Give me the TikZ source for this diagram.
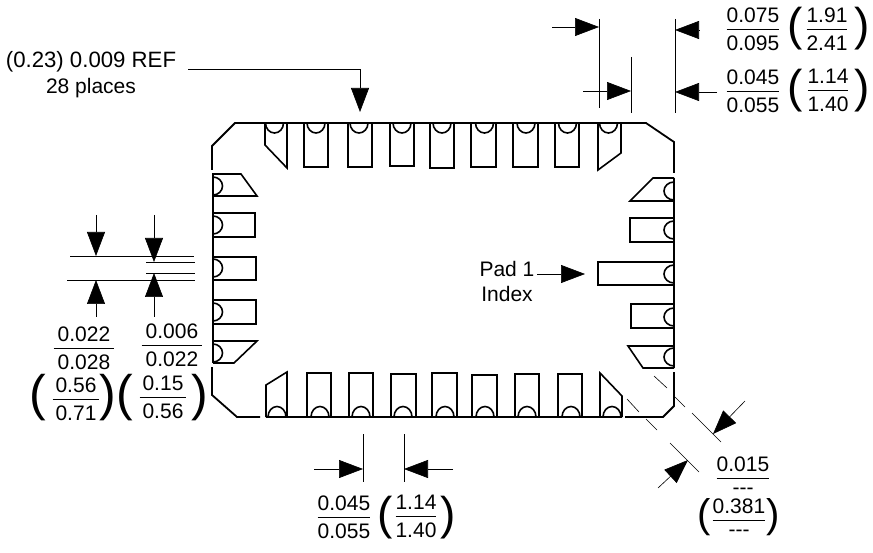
\documentclass[tikz,border=0pt]{standalone}
\usepackage{fontspec}
\setmainfont{Liberation Sans}
\usetikzlibrary{arrows.meta}
\setlength{\arrayrulewidth}{0.8pt}
\newcommand{\dimfrac}[3][0pt]{{\renewcommand{\arraystretch}{0}\begin{tabular}{@{\hspace{#1}}c@{\hspace{#1}}}\rule[-6pt]{0pt}{23pt}#2\\\hline\rule[-2pt]{0pt}{23pt}#3\end{tabular}}}
\begin{document}
\begin{tikzpicture}[x=1pt, y=-1pt, >={Triangle[length=24pt, width=18pt]}, font=\fontsize{21}{24}\selectfont]
    \tikzstyle{outline}=[draw=black, line width=1.8pt, line join=miter]
    \tikzstyle{pad}=[draw=black, line width=1.6pt]
    \tikzstyle{dimline}=[draw=black, line width=0.6pt]
    \tikzstyle{dimarrow}=[dimline, ->]
    \tikzstyle{label}=[inner sep=0pt]
    \tikzstyle{paren}=[inner sep=0pt, font=\fontsize{46}{46}\selectfont]

    \useasboundingbox (0,0) rectangle (873,553);

    % package outline
    \draw[outline] (212,170) -- (212,146) -- (235,123) -- (646,123) -- (674,142) -- (674,173);
    \draw[outline] (674,178) -- (674,368);
    \draw[outline] (674,372) -- (674,406) -- (663,417) -- (625,417);
    \draw[outline] (622,417) -- (266,417);
    \draw[outline] (260,417) -- (237,417) -- (212,395) -- (212,367);
    \draw[outline] (213,363) -- (213,173);

    %%%% top pads
    \draw[pad] (265,123) -- (265,145) -- (287,168) -- (287,123) (265.5,123) arc[start angle=180, end angle=360, x radius=9pt, y radius=10pt];
    \draw[pad] (304,123) -- (304,167) -- (328,167) -- (328,123) (307,123) arc[start angle=180, end angle=360, x radius=9pt, y radius=10pt];
    \draw[pad] (348,123) -- (348,167) -- (372,167) -- (372,123) (350,123) arc[start angle=180, end angle=360, x radius=9pt, y radius=10pt];
    \draw[pad] (390,123) -- (390,166) -- (414,166) -- (414,123) (393,123) arc[start angle=180, end angle=360, x radius=9pt, y radius=10pt];
    \draw[pad] (430,123) -- (430,168) -- (454,168) -- (454,123) (433,123) arc[start angle=180, end angle=360, x radius=9pt, y radius=10pt];
    \draw[pad] (471,123) -- (471,167) -- (496,167) -- (496,123) (475.5,123) arc[start angle=180, end angle=360, x radius=9pt, y radius=10pt];
    \draw[pad] (513,123) -- (513,167) -- (538,167) -- (538,123) (517,123) arc[start angle=180, end angle=360, x radius=9pt, y radius=10pt];
    \draw[pad] (555,123) -- (555,167) -- (579,167) -- (579,123) (558.5,123) arc[start angle=180, end angle=360, x radius=9pt, y radius=10pt];
    \draw[pad] (598,123) -- (598,170) -- (621,153) -- (621,123) (599.5,123) arc[start angle=180, end angle=360, x radius=9pt, y radius=10pt];

    %%%% bottom pads
    \draw[pad] (266,417) -- (266,385) -- (287,372) -- (287,417) (268,417) arc[start angle=180, end angle=0, x radius=9pt, y radius=10.5pt];
    \draw[pad] (307,417) -- (307,373) -- (331,373) -- (331,417) (311,417) arc[start angle=180, end angle=0, x radius=9pt, y radius=10.5pt];
    \draw[pad] (349,417) -- (349,373) -- (373,373) -- (373,417) (352,417) arc[start angle=180, end angle=0, x radius=9pt, y radius=10.5pt];
    \draw[pad] (391,417) -- (391,374) -- (416,374) -- (416,417) (394,417) arc[start angle=180, end angle=0, x radius=9pt, y radius=10.5pt];
    \draw[pad] (432,417) -- (432,373) -- (457,373) -- (457,417) (436,417) arc[start angle=180, end angle=0, x radius=9pt, y radius=10.5pt];
    \draw[pad] (472,417) -- (472,375) -- (497,375) -- (497,417) (476,417) arc[start angle=180, end angle=0, x radius=9pt, y radius=10.5pt];
    \draw[pad] (515,417) -- (515,374) -- (539,374) -- (539,417) (518,417) arc[start angle=180, end angle=0, x radius=9pt, y radius=10.5pt];
    \draw[pad] (558,417) -- (558,374) -- (582,374) -- (582,417) (562,417) arc[start angle=180, end angle=0, x radius=9pt, y radius=10.5pt];
    \draw[pad] (600,417) -- (600,373) -- (622,396) -- (622,417) (603,417) arc[start angle=180, end angle=0, x radius=9pt, y radius=10.5pt];

    %%%% left pads
    \draw[pad] (213,174) -- (241,174) -- (257,196) -- (213,196) (213,177) arc[start angle=90, end angle=-90, x radius=9.5pt, y radius=9pt];
    \draw[pad] (213,213) -- (255,213) -- (255,237) -- (213,237) (213,216) arc[start angle=90, end angle=-90, x radius=9.5pt, y radius=9pt];
    \draw[pad] (213,257) -- (256,257) -- (256,280) -- (213,280) (213,259) arc[start angle=90, end angle=-90, x radius=9.5pt, y radius=9pt];
    \draw[pad] (213,300) -- (256,300) -- (256,324) -- (213,324) (213,303) arc[start angle=90, end angle=-90, x radius=9.5pt, y radius=9pt];
    \draw[pad] (213,341) -- (257,341) -- (234,363) -- (213,363) (213,344) arc[start angle=90, end angle=-90, x radius=9.5pt, y radius=9pt];

    %%%% right pads
    \draw[pad] (674,178) -- (653,178) -- (630,201) -- (674,201) (674,182) arc[start angle=90, end angle=270, x radius=10pt, y radius=9pt];
    \draw[pad] (674,218) -- (630,218) -- (630,242) -- (674,242) (674,221) arc[start angle=90, end angle=270, x radius=10pt, y radius=9pt];
    \draw[pad] (674,262) -- (598,262) -- (598,285) -- (674,285) (674,265) arc[start angle=90, end angle=270, x radius=10pt, y radius=9pt];
    \draw[pad] (674,304) -- (631,304) -- (631,328) -- (674,328) (674,308) arc[start angle=90, end angle=270, x radius=10pt, y radius=9pt];
    \draw[pad] (674,346) -- (628,346) -- (643,368) -- (674,368) (674,348) arc[start angle=90, end angle=270, x radius=10pt, y radius=9pt];

    %%%% top left reference
    \node[label, font=\fontsize{22.2}{24}\selectfont] (ref) at (91,62) {(0.23) 0.009 REF};
    \node[label] (places) at (91,88) {28 places};
    \coordinate (refstart) at (188,69);
    \coordinate (refturn) at (360,69);
    \coordinate (reftip) at (360,112);
    \draw[dimarrow] (refstart) -- (refturn) -- (reftip);

    %%%% top right dimensions
    \coordinate (ta) at (599,19);
    \coordinate (tb) at (599,108);
    \coordinate (tc) at (631,57);
    \coordinate (td) at (631,113);
    \coordinate (te) at (675,19);
    \coordinate (tf) at (675,113);
    \draw[dimline] (ta) -- (tb);
    \draw[dimline] (tc) -- (td);
    \draw[dimline] (te) -- (tf);
    \coordinate (a1s) at (552,27);
    \coordinate (a1e) at (599,27);
    \coordinate (a2s) at (583,91);
    \coordinate (a2e) at (631,91);
    \coordinate (a3s) at (699,30);
    \coordinate (a3e) at (675,30);
    \coordinate (a4s) at (717,92);
    \coordinate (a4e) at (675,92);
    \draw[dimarrow] (a1s) -- (a1e);
    \draw[dimarrow] (a2s) -- (a2e);
    \draw[dimarrow] (a3s) -- (a3e);
    \draw[dimarrow] (a4s) -- (a4e);

    \node[label] (f075) at (753,29) {\dimfrac{0.075}{0.095}};
    \node[paren] (p1l) at (795,29) {(};
    \node[label] (f191) at (827,29) {\dimfrac{1.91}{2.41}};
    \node[paren] (p1r) at (862,29) {)};
    \node[label] (f045) at (753,91) {\dimfrac{0.045}{0.055}};
    \node[paren] (p2l) at (795,91) {(};
    \node[label] (f114) at (828,90) {\dimfrac{1.14}{1.40}};
    \node[paren] (p2r) at (862,91) {)};

    %%%% left dimensions
    \coordinate (la) at (70,256);
    \coordinate (lb) at (194,256);
    \coordinate (lc) at (67,280);
    \coordinate (ld) at (195,280);
    \coordinate (le) at (146,262);
    \coordinate (lf) at (195,262);
    \coordinate (lg) at (146,273);
    \coordinate (lh) at (195,273);
    \draw[dimline] (la) -- (lb);
    \draw[dimline] (lc) -- (ld);
    \draw[dimline] (le) -- (lf);
    \draw[dimline] (lg) -- (lh);
    \coordinate (a5s) at (96,215);
    \coordinate (a5e) at (96,256);
    \coordinate (a6s) at (96,317);
    \coordinate (a6e) at (96,280);
    \coordinate (a7s) at (154,215);
    \coordinate (a7e) at (154,262);
    \coordinate (a8s) at (154,317);
    \coordinate (a8e) at (154,273);
    \draw[dimarrow] (a5s) -- (a5e);
    \draw[dimarrow] (a6s) -- (a6e);
    \draw[dimarrow] (a7s) -- (a7e);
    \draw[dimarrow] (a8s) -- (a8e);

    \node[label] (f022) at (84,348) {\dimfrac[4pt]{0.022}{0.028}};
    \node[label] (f006) at (172,345) {\dimfrac[4pt]{0.006}{0.022}};
    \node[paren, font=\fontsize{50}{50}\selectfont] (p3l) at (38,398) {(};
    \node[label] (f056) at (76,399) {\dimfrac[3pt]{0.56}{0.71}};
    \node[paren, font=\fontsize{50}{50}\selectfont] (p3r) at (108,398) {)};
    \node[paren, font=\fontsize{50}{50}\selectfont] (p4l) at (125,398) {(};
    \node[label] (f015) at (163,397) {\dimfrac[3pt]{0.15}{0.56}};
    \node[paren, font=\fontsize{50}{50}\selectfont] (p4r) at (200,398) {)};

    %%%% bottom dimensions
    \coordinate (ba) at (363,434);
    \coordinate (bb) at (363,482);
    \coordinate (bc) at (404,434);
    \coordinate (bd) at (404,482);
    \draw[dimline] (ba) -- (bb);
    \draw[dimline] (bc) -- (bd);
    \coordinate (a9s) at (314,469);
    \coordinate (a9e) at (363,469);
    \coordinate (a10s) at (453,469);
    \coordinate (a10e) at (404,469);
    \draw[dimarrow] (a9s) -- (a9e);
    \draw[dimarrow] (a10s) -- (a10e);

    \node[label] (fb045) at (344,517) {\dimfrac{0.045}{0.055}};
    \node[paren] (p5l) at (385,518) {(};
    \node[label] (fb114) at (416,516) {\dimfrac{1.14}{1.40}};
    \node[paren] (p5r) at (448,518) {)};

    %%%% corner dimension
    \draw[dimline] (627,399) -- (639,412);
    \draw[dimline] (646,419) -- (657,430);
    \draw[dimline] (670,443) -- (699,472);
    \draw[dimline] (654,376) -- (667,388);
    \draw[dimline] (675,397) -- (685,407);
    \draw[dimline] (692,413) -- (721,442);
    \coordinate (a11s) at (745,401);
    \coordinate (a11e) at (713,434);
    \coordinate (a12s) at (658,488);
    \coordinate (a12e) at (688,460);
    \draw[dimarrow] (a11s) -- (a11e);
    \draw[dimarrow] (a12s) -- (a12e);

    \node[label] (fc015) at (743,478) {\dimfrac{0.015}{\raisebox{5pt}{-{}-{}-}}};
    \node[paren, font=\fontsize{40}{40}\selectfont] (p6l) at (704,517) {(};
    \node[label] (fc381) at (739,520) {\dimfrac{0.381}{\raisebox{5pt}{-{}-{}-}}};
    \node[paren, font=\fontsize{40}{40}\selectfont] (p6r) at (773,517) {)};

    %%%% index
    \node[label] (pad1) at (507,269) {Pad 1};
    \node[label] (index) at (507,294) {Index};
    \coordinate (idxtip) at (585,274);
    \coordinate (idxstart) at (537,274);
    \draw[dimarrow] (idxstart) -- (idxtip);
\end{tikzpicture}
\end{document}
